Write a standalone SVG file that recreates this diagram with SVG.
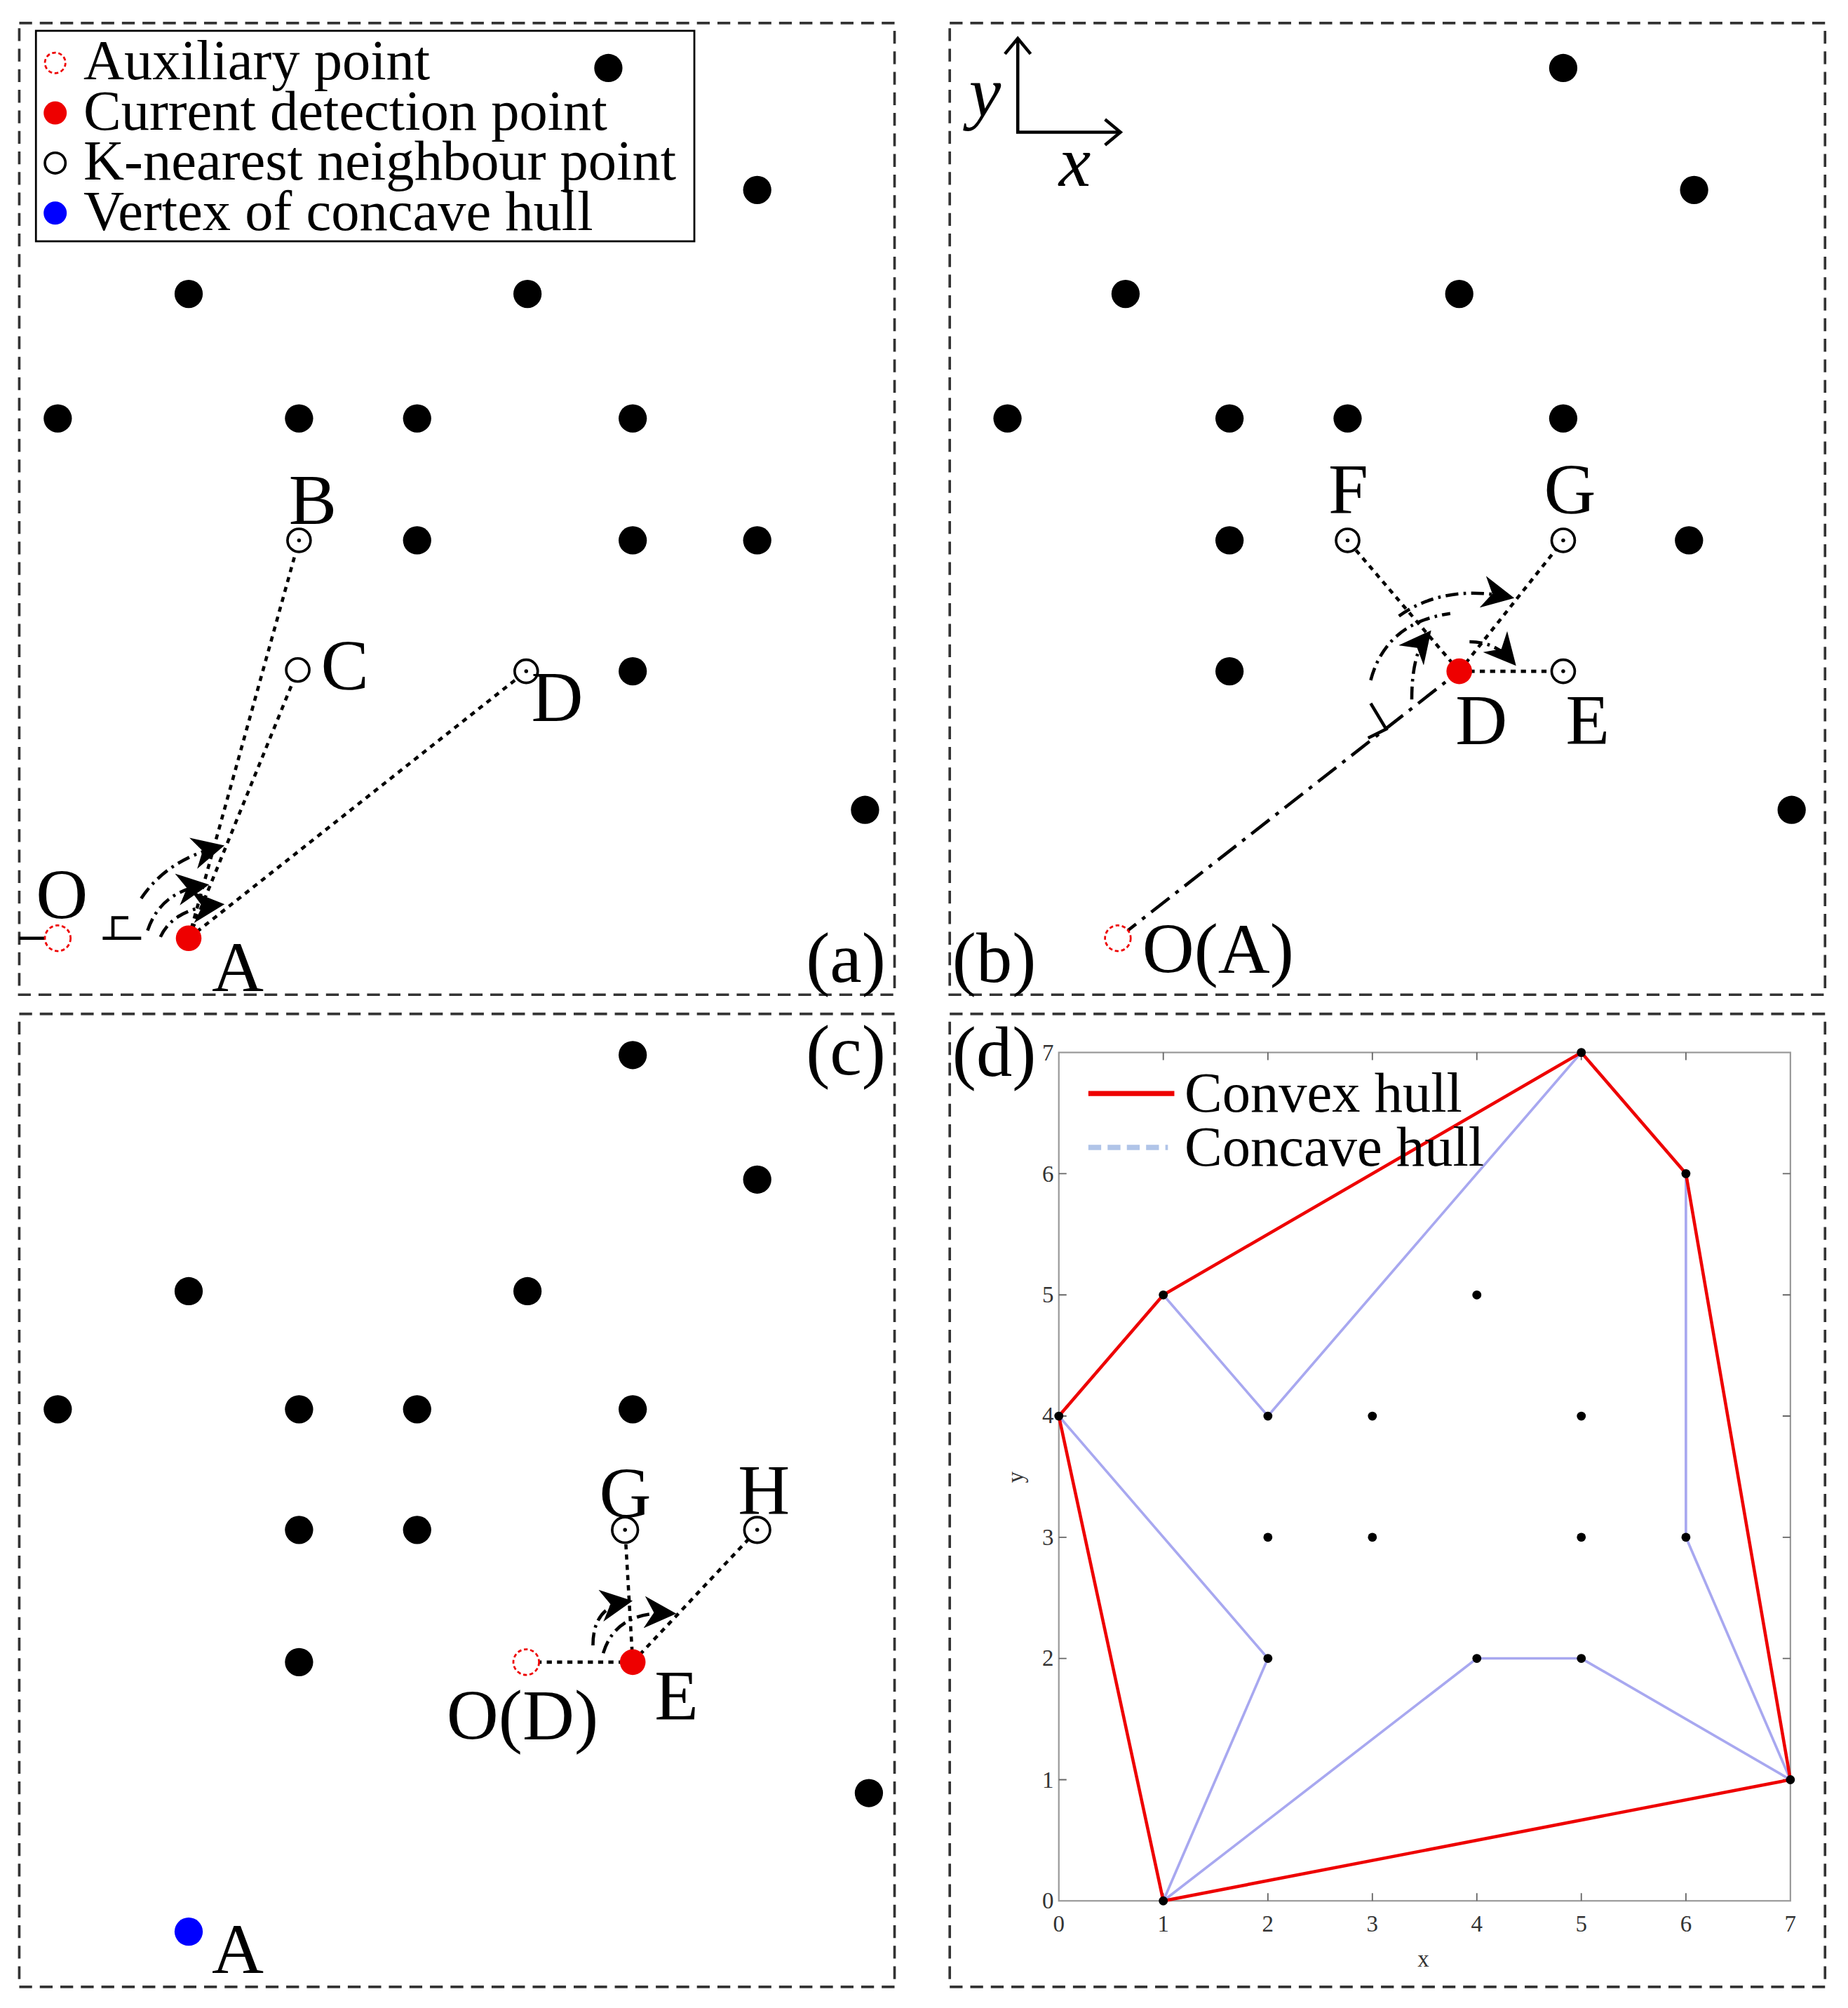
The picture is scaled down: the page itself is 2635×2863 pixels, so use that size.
<svg xmlns="http://www.w3.org/2000/svg" width="2635" height="2863" viewBox="0 0 2635 2863">
<defs>
<style>
.t{font-family:"Liberation Serif",serif;fill:#000}
.L{font-size:56px}
.lg{font-size:44px}
.tk{font-size:18px;fill:#333}
.frame{fill:none;stroke:#333;stroke-width:2;stroke-dasharray:10 6}
.dot{fill:#000}
.kn{fill:#fff;stroke:#000;stroke-width:2}
.aux{fill:#fff;stroke:#e00;stroke-width:1.5;stroke-dasharray:3 2}
.cur{fill:#e00}
.dl{stroke:#000;stroke-width:2.5;stroke-dasharray:4 4;fill:none}
.dd{stroke:#000;stroke-width:2.5;stroke-dasharray:18 6 3 6;fill:none}
.arc{stroke:#000;stroke-width:2.5;stroke-dasharray:10 4 2 4;fill:none}
.cvx{stroke:#e00;stroke-width:2.5;fill:none}
.ccv{stroke:#a8a8f0;stroke-width:2;fill:none}
</style>
<marker id="ah" viewBox="0 0 10 10" refX="8" refY="5" markerWidth="10" markerHeight="10" orient="auto" markerUnits="strokeWidth"><path d="M0,0 L10,5 L0,10 L3,5 z" fill="#000"/></marker>
</defs>
<rect width="2635" height="2863" fill="#fff"/>
<g transform="scale(1.83)">
<g id="frames">
<rect class="frame" x="15" y="18" width="682" height="757"/>
<rect class="frame" x="740" y="18" width="682" height="757"/>
<rect class="frame" x="15" y="790" width="682" height="758"/>
<rect class="frame" x="740" y="790" width="682" height="758"/>
</g>
<g id="legend">
<rect x="28" y="24" width="513" height="164" fill="#fff" stroke="#000" stroke-width="1.5"/>
<circle class="aux" cx="43" cy="49" r="8"/>
<circle class="cur" cx="43" cy="88" r="9"/>
<circle class="kn" cx="43" cy="127" r="8"/>
<circle cx="43" cy="166" r="9" fill="#00f"/>
<text class="t lg" x="65" y="62">Auxiliary point</text>
<text class="t lg" x="65" y="101">Current detection point</text>
<text class="t lg" x="65" y="140">K-nearest neighbour point</text>
<text class="t lg" x="65" y="179">Vertex of concave hull</text>
</g>
<g id="panel-a">
<g class="dot">
<circle cx="474" cy="53" r="11"/><circle cx="590" cy="148" r="11"/><circle cx="147" cy="229" r="11"/><circle cx="411" cy="229" r="11"/>
<circle cx="45" cy="326" r="11"/><circle cx="233" cy="326" r="11"/><circle cx="325" cy="326" r="11"/><circle cx="493" cy="326" r="11"/>
<circle cx="325" cy="421" r="11"/><circle cx="493" cy="421" r="11"/><circle cx="590" cy="421" r="11"/><circle cx="493" cy="523" r="11"/><circle cx="674" cy="631" r="11"/>
</g>
<g id="connectors-a">
<line class="dl" x1="147" y1="731" x2="233" y2="421"/>
<line class="dl" x1="147" y1="731" x2="232" y2="522"/>
<line class="dl" x1="147" y1="731" x2="410" y2="523"/>
<line x1="15" y1="731" x2="35" y2="731" stroke="#000" stroke-width="2.5"/>
<path d="M80,731 H110 M88,731 V715 H100" stroke="#000" stroke-width="2.5" fill="none"/>
<path class="arc" d="M110,700 Q130,670 170,660" marker-end="url(#ah)"/>
<path class="arc" d="M115,725 Q125,695 158,690" marker-end="url(#ah)"/>
<path class="arc" d="M125,730 Q135,708 170,705" marker-end="url(#ah)"/>
</g>
<circle class="kn" cx="233" cy="421" r="9"/><circle cx="233" cy="421" r="1.5"/>
<circle class="kn" cx="232" cy="522" r="9"/>
<circle class="kn" cx="410" cy="523" r="9"/><circle cx="410" cy="523" r="1.5"/>
<circle class="aux" cx="45" cy="731" r="10"/>
<circle class="cur" cx="147" cy="731" r="10"/>
<text class="t L" x="28" y="716">O</text>
<text class="t L" x="165" y="772">A</text>
<text class="t L" x="225" y="408">B</text>
<text class="t L" x="250" y="537">C</text>
<text class="t L" x="414" y="562">D</text>
<text class="t L" x="628" y="765">(a)</text>
</g>
<g id="panel-b">
<g class="dot">
<circle cx="1218" cy="53" r="11"/><circle cx="1320" cy="148" r="11"/><circle cx="877" cy="229" r="11"/><circle cx="1137" cy="229" r="11"/>
<circle cx="785" cy="326" r="11"/><circle cx="958" cy="326" r="11"/><circle cx="1050" cy="326" r="11"/><circle cx="1218" cy="326" r="11"/>
<circle cx="958" cy="421" r="11"/><circle cx="1316" cy="421" r="11"/><circle cx="958" cy="523" r="11"/><circle cx="1396" cy="631" r="11"/>
</g>
<g id="axes-b" stroke="#000" stroke-width="2.5" fill="none">
<path d="M793,30 V103 H873"/>
<path d="M783,42 L793,30 L803,42 M861,93 L873,103 L861,113"/>
</g>
<text class="t L" x="755" y="90" font-style="italic">y</text>
<text class="t L" x="825" y="145" font-style="italic">x</text>
<g id="connectors-b">
<line class="dd" x1="871" y1="731" x2="1137" y2="523"/>
<line class="dl" x1="1137" y1="523" x2="1050" y2="421"/>
<line class="dl" x1="1137" y1="523" x2="1218" y2="421"/>
<line class="dl" x1="1137" y1="523" x2="1218" y2="523"/>
<path d="M1068,548 L1080,568 L1066,575" stroke="#000" stroke-width="2.5" fill="none"/>
<path class="arc" d="M1090,480 Q1125,455 1175,465" marker-end="url(#ah)"/>
<path class="arc" d="M1068,530 Q1080,485 1130,478"/>
<path class="arc" d="M1100,545 Q1100,510 1112,495" marker-end="url(#ah)"/>
<path class="arc" d="M1145,500 Q1165,500 1178,515" marker-end="url(#ah)"/>
</g>
<circle class="kn" cx="1050" cy="421" r="9"/><circle cx="1050" cy="421" r="1.5"/>
<circle class="kn" cx="1218" cy="421" r="9"/><circle cx="1218" cy="421" r="1.5"/>
<circle class="kn" cx="1218" cy="523" r="9"/><circle cx="1218" cy="523" r="1.5"/>
<circle class="aux" cx="871" cy="731" r="10"/>
<circle class="cur" cx="1137" cy="523" r="10"/>
<text class="t L" x="1035" y="400">F</text>
<text class="t L" x="1203" y="400">G</text>
<text class="t L" x="1134" y="580">D</text>
<text class="t L" x="1220" y="580">E</text>
<text class="t L" x="890" y="758">O(A)</text>
<text class="t L" x="742" y="765">(b)</text>
</g>
<g id="panel-c">
<g class="dot">
<circle cx="493" cy="822" r="11"/><circle cx="590" cy="919" r="11"/><circle cx="147" cy="1006" r="11"/><circle cx="411" cy="1006" r="11"/>
<circle cx="45" cy="1098" r="11"/><circle cx="233" cy="1098" r="11"/><circle cx="325" cy="1098" r="11"/><circle cx="493" cy="1098" r="11"/>
<circle cx="233" cy="1192" r="11"/><circle cx="325" cy="1192" r="11"/><circle cx="233" cy="1295" r="11"/><circle cx="677" cy="1397" r="11"/>
</g>
<g id="connectors-c">
<line class="dl" x1="410" y1="1295" x2="493" y2="1295"/>
<line class="dl" x1="493" y1="1295" x2="487" y2="1192"/>
<line class="dl" x1="493" y1="1295" x2="590" y2="1192"/>
<path class="arc" d="M462,1282 Q462,1252 488,1248" marker-end="url(#ah)"/>
<path class="arc" d="M470,1288 Q480,1255 522,1257" marker-end="url(#ah)"/>
</g>
<circle class="kn" cx="487" cy="1192" r="10"/><circle cx="487" cy="1192" r="1.5"/>
<circle class="kn" cx="590" cy="1192" r="10"/><circle cx="590" cy="1192" r="1.5"/>
<circle class="aux" cx="410" cy="1295" r="10"/>
<circle class="cur" cx="493" cy="1295" r="10"/>
<circle cx="147" cy="1505" r="11" fill="#00f"/>
<text class="t L" x="467" y="1182">G</text>
<text class="t L" x="575" y="1180">H</text>
<text class="t L" x="348" y="1355">O(D)</text>
<text class="t L" x="510" y="1340">E</text>
<text class="t L" x="165" y="1537">A</text>
<text class="t L" x="628" y="837">(c)</text>
</g>
<g id="panel-d">
<rect x="825" y="820" width="570" height="661" fill="none" stroke="#999" stroke-width="1.2"/>
<g stroke="#666" stroke-width="1">
<path d="M906.4,1481 v-6 M987.9,1481 v-6 M1069.3,1481 v-6 M1150.7,1481 v-6 M1232.1,1481 v-6 M1313.6,1481 v-6 M906.4,820 v6 M987.9,820 v6 M1069.3,820 v6 M1150.7,820 v6 M1232.1,820 v6 M1313.6,820 v6"/>
<path d="M825,1386.6 h6 M825,1292.1 h6 M825,1197.7 h6 M825,1103.3 h6 M825,1008.9 h6 M825,914.4 h6 M1395,1386.6 h-6 M1395,1292.1 h-6 M1395,1197.7 h-6 M1395,1103.3 h-6 M1395,1008.9 h-6 M1395,914.4 h-6"/>
</g>
<g class="t tk" text-anchor="middle">
<text x="825" y="1505">0</text><text x="906.4" y="1505">1</text><text x="987.9" y="1505">2</text><text x="1069.3" y="1505">3</text><text x="1150.7" y="1505">4</text><text x="1232.1" y="1505">5</text><text x="1313.6" y="1505">6</text><text x="1395" y="1505">7</text>
<text x="1109" y="1532">x</text>
</g>
<g class="t tk" text-anchor="end">
<text x="821" y="1487">0</text><text x="821" y="1393">1</text><text x="821" y="1298">2</text><text x="821" y="1204">3</text><text x="821" y="1109">4</text><text x="821" y="1015">5</text><text x="821" y="921">6</text><text x="821" y="826">7</text>
</g>
<text class="t tk" x="797" y="1151" text-anchor="middle" transform="rotate(-90 797 1151)">y</text>
<polyline class="ccv" points="825,1103.3 906.4,1008.9 987.9,1103.3 1232.1,820 1313.6,914.4 1313.6,1197.7 1395,1386.6 1232.1,1292.1 1150.7,1292.1 906.4,1481 987.9,1292.1 825,1103.3"/>
<polygon class="cvx" points="825,1103.3 906.4,1008.9 1232.1,820 1313.6,914.4 1395,1386.6 906.4,1481"/>
<g class="dot">
<circle cx="825" cy="1103.3" r="3.5"/><circle cx="906.4" cy="1008.9" r="3.5"/><circle cx="1232.1" cy="820" r="3.5"/><circle cx="1313.6" cy="914.4" r="3.5"/>
<circle cx="1395" cy="1386.6" r="3.5"/><circle cx="906.4" cy="1481" r="3.5"/><circle cx="987.9" cy="1103.3" r="3.5"/><circle cx="1313.6" cy="1197.7" r="3.5"/>
<circle cx="1232.1" cy="1292.1" r="3.5"/><circle cx="1150.7" cy="1292.1" r="3.5"/><circle cx="987.9" cy="1292.1" r="3.5"/><circle cx="1150.7" cy="1008.9" r="3.5"/>
<circle cx="1069.3" cy="1103.3" r="3.5"/><circle cx="1232.1" cy="1103.3" r="3.5"/><circle cx="987.9" cy="1197.7" r="3.5"/><circle cx="1069.3" cy="1197.7" r="3.5"/><circle cx="1232.1" cy="1197.7" r="3.5"/>
</g>
<line x1="848" y1="852" x2="915" y2="852" stroke="#e00" stroke-width="4"/>
<line x1="848" y1="894" x2="910" y2="894" stroke="#b0c4e8" stroke-width="4" stroke-dasharray="10 5"/>
<text class="t lg" x="923" y="866">Convex hull</text>
<text class="t lg" x="923" y="908">Concave hull</text>
<text class="t L" x="742" y="838">(d)</text>
</g>
</g>
</svg>
